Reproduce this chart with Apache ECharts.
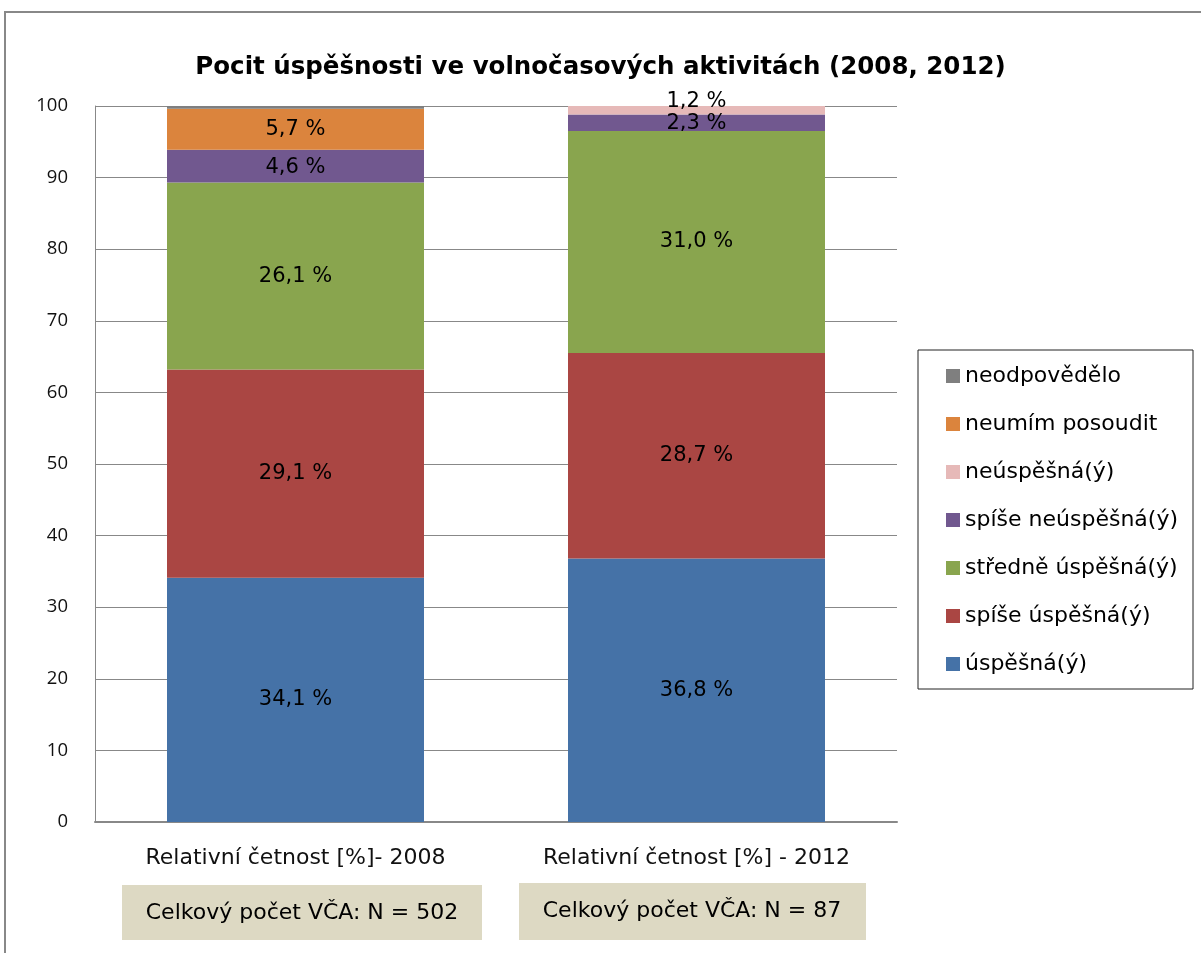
<!DOCTYPE html>
<html>
<head>
<meta charset="utf-8">
<script src="https://cdn.jsdelivr.net/npm/echarts@6/dist/echarts.min.js"></script>
<style>
html,body{margin:0;padding:0;background:#fff;}
#chart{width:1201px;height:953px;}
</style>
</head>
<body>
<div id="chart"></div>
<script>
var titleText = 'Pocit úspěšnosti ve volnočasových aktivitách (2008, 2012)';
var categories = ['Relativní četnost [%]- 2008', 'Relativní četnost [%] - 2012'];
var nTotals = [502, 87];
var seriesNames = ['úspěšná(ý)', 'spíše úspěšná(ý)', 'středně úspěšná(ý)', 'spíše neúspěšná(ý)', 'neúspěšná(ý)', 'neumím posoudit', 'neodpovědělo'];
var seriesColors = ['#4572a7', '#aa4643', '#89a54e', '#71588f', '#e6b9b8', '#db843d', '#7f7f7f'];
var uspesna = [34.1, 36.8];
var spiseUspesna = [29.1, 28.7];
var stredneUspesna = [26.1, 31.0];
var spiseNeuspesna = [4.6, 2.3];
var neuspesna = [0, 1.2];
var neumimPosoudit = [5.7, 0];
var neodpovedelo = [0.4, 0];
var yTicks = [0, 10, 20, 30, 40, 50, 60, 70, 80, 90, 100];

var seriesValues = [uspesna, spiseUspesna, stredneUspesna, spiseNeuspesna, neuspesna, neumimPosoudit, neodpovedelo];
var FONT = '"DejaVu Sans", sans-serif';
var NUMFONT = '"Open Sans", sans-serif';

var chart = echarts.init(document.getElementById('chart'));
var series = seriesNames.map(function (name, i) {
  return {
    name: name,
    type: 'bar',
    stack: 'total',
    barWidth: 257,
    data: seriesValues[i],
    itemStyle: { color: seriesColors[i] },
    label: {
      show: i !== 6,
      position: 'inside',
      offset: i === 4 ? [0, -9] : (i === 3 ? [0, 1] : [0, 0]),
      color: '#000',
      fontFamily: FONT,
      fontSize: 21,
      formatter: function (p) {
        if (!p.value) return '';
        return p.value.toFixed(1).replace('.', ',') + ' %';
      }
    },
    emphasis: { disabled: true }
  };
});

var legendOrder = seriesNames.slice().reverse();

chart.setOption({
  animation: false,
  title: {
    text: titleText,
    left: 'center',
    top: 50,
    textStyle: { fontFamily: FONT, fontWeight: 'bold', fontSize: 24.5, color: '#000' }
  },
  grid: { left: 95, right: 304, top: 106, bottom: 131 },
  legend: {
    orient: 'vertical',
    left: 941,
    top: 360,
    data: legendOrder,
    itemWidth: 14,
    itemHeight: 14,
    itemGap: 26,
    icon: 'rect',
    textStyle: { fontFamily: FONT, fontSize: 22, lineHeight: 20, color: '#000' },
    selectedMode: false
  },
  xAxis: {
    type: 'category',
    data: categories,
    axisLine: { lineStyle: { color: '#888', width: 2 } },
    axisTick: { show: false },
    axisLabel: { fontFamily: FONT, fontSize: 22, color: '#111', margin: 25 }
  },
  yAxis: {
    type: 'value',
    min: yTicks[0],
    max: yTicks[yTicks.length - 1],
    interval: 10,
    axisLine: { show: true, lineStyle: { color: '#888', width: 1 } },
    axisTick: { show: false },
    splitLine: { lineStyle: { color: '#888', width: 1 } },
    axisLabel: { fontFamily: NUMFONT, fontSize: 18.5, color: '#111', margin: 27 }
  },
  series: series,
  graphic: [
    { type: 'rect', shape: { x: 5, y: 12, width: 1300, height: 1100 }, style: { fill: 'none', stroke: '#888', lineWidth: 2 }, silent: true },
    { type: 'rect', shape: { x: 918, y: 350, width: 275, height: 339 }, style: { fill: 'none', stroke: '#222', lineWidth: 1 }, silent: true },
    { type: 'rect', shape: { x: 122, y: 885, width: 360, height: 55 }, style: { fill: '#ddd9c3' }, silent: true },
    { type: 'text', x: 302, y: 913, style: { text: 'Celkový počet VČA: N = ' + nTotals[0], fontFamily: FONT, fontSize: 22, fill: '#000', align: 'center', verticalAlign: 'middle' }, silent: true },
    { type: 'rect', shape: { x: 519, y: 883, width: 347, height: 57 }, style: { fill: '#ddd9c3' }, silent: true },
    { type: 'text', x: 692, y: 911, style: { text: 'Celkový počet VČA: N = ' + nTotals[1], fontFamily: FONT, fontSize: 22, fill: '#000', align: 'center', verticalAlign: 'middle' }, silent: true }
  ]
});
</script>
</body>
</html>
